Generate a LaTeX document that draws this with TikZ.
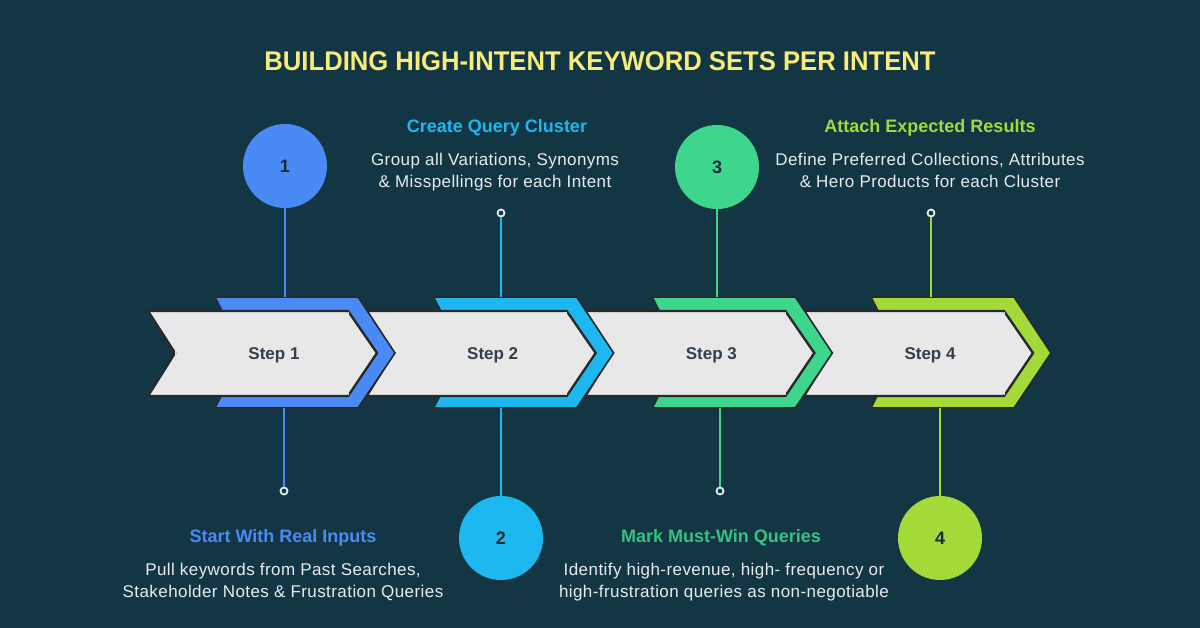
\documentclass[tikz,border=0pt]{standalone}
\usepackage{fontspec}
\setmainfont{Liberation Sans}
\newfontfamily\titlefont[FakeStretch=0.95]{Liberation Sans}
\newfontfamily\descfont[LetterSpace=2.5]{Liberation Sans}
\usetikzlibrary{positioning,calc}
\definecolor{bgdark}{HTML}{133644}
\definecolor{titleyel}{HTML}{F7EB7C}
\definecolor{stepA}{HTML}{4A8AF4}
\definecolor{stepB}{HTML}{1DB8F0}
\definecolor{stepC}{HTML}{3DD68C}
\definecolor{stepD}{HTML}{A4D93A}
\definecolor{band}{HTML}{E8E8E8}
\definecolor{edge}{HTML}{262A2C}
\definecolor{bodytxt}{HTML}{E6ECEF}
\definecolor{numtxt}{HTML}{1B2A38}

% one chevron pair: #1 left edge of the grey arrow, #2 colour
\newcommand{\stepband}[2]{%
  \draw[edge, fill=#2, line width=1.6pt, line join=miter]
    (#1+67,297) -- (#1+210,297) -- (#1+247,353) -- (#1+210,408) -- (#1+67,408) -- (#1+95,353) -- cycle;
  \draw[edge, fill=band, line width=2.4pt, line join=miter]
    (#1,311) -- (#1+200,311) -- (#1+229,353) -- (#1+200,396) -- (#1,396) -- (#1+27,353) -- cycle;
  \draw[black!10, line width=0.6pt] (#1+27,312.5) -- (#1+27,394.5) (#1+200,312.5) -- (#1+200,394.5);
}

\begin{document}
\begin{tikzpicture}[x=1pt, y=-1pt,
  every node/.style={font=\fontsize{16}{22}\selectfont},
  stepnum/.style={circle, minimum size=84pt, inner sep=0pt, text=numtxt,
                  font=\fontsize{18}{18}\selectfont\bfseries},
  ring/.style={circle, draw=bodytxt, fill=bgdark, line width=1.8pt,
               minimum size=7pt, inner sep=0pt},
  head/.style={font=\fontsize{18}{20}\selectfont\bfseries},
  desc/.style={text=bodytxt, align=center, font=\fontsize{17}{22}\descfont},
  steplbl/.style={text=numtxt!90, font=\fontsize{17}{17}\selectfont\bfseries},
  link/.style={line width=2pt}
]
  \fill[bgdark] (0,0) rectangle (1200,628);
  \useasboundingbox (0,0) rectangle (1200,628);

  \node[text=titleyel, font=\fontsize{27}{27}\titlefont\bfseries] (title) at (600,61)
    {BUILDING HIGH-INTENT KEYWORD SETS PER INTENT};

  % chevrons, drawn right to left so each sits over the next one
  \foreach \x/\c in {804/stepD, 585.33/stepC, 366.67/stepB, 148/stepA}
    {\stepband{\x}{\c}}

  \node[steplbl] (s1) at (274,355) {Step 1};
  \node[steplbl] (s2) at (492.7,355) {Step 2};
  \node[steplbl] (s3) at (711.3,355) {Step 3};
  \node[steplbl] (s4) at (930,355) {Step 4};

  % attachment points on the coloured chevrons
  \coordinate (t1) at (285,297);   \coordinate (b1) at (284,408);
  \coordinate (t2) at (501,297);   \coordinate (b2) at (501,408);
  \coordinate (t3) at (717,297);   \coordinate (b3) at (720,408);
  \coordinate (t4) at (931,297);   \coordinate (b4) at (940,408);

  \node[stepnum, fill=stepA] (c1) at (285,166) {1};
  \node[stepnum, fill=stepB] (c2) at (501,538) {2};
  \node[stepnum, fill=stepC] (c3) at (717,167) {3};
  \node[stepnum, fill=stepD] (c4) at (940,538) {4};

  \node[ring] (r1) at (284,491) {};
  \node[ring] (r2) at (501,213) {};
  \node[ring] (r3) at (720,491) {};
  \node[ring] (r4) at (931,213) {};

  \draw[link, stepA] (c1) -- (t1);
  \draw[link, stepA] (b1) -- (r1);
  \draw[link, stepB] (r2) -- (t2);
  \draw[link, stepB] (b2) -- (c2);
  \draw[link, stepC] (c3) -- (t3);
  \draw[link, stepC] (b3) -- (r3);
  \draw[link, stepD] (r4) -- (t4);
  \draw[link, stepD] (b4) -- (c4);

  % texts
  \node[head, text=stepB] (h2) at (497,128) {Create Query Cluster};
  \node[desc, below=10pt of h2, xshift=-2pt] (d2) {Group all Variations, Synonyms\\\& Misspellings for each Intent};

  \node[head, text=stepD] (h4) at (930,128) {Attach Expected Results};
  \node[desc, below=10pt of h4] (d4) {Define Preferred Collections, Attributes\\\& Hero Products for each Cluster};

  \node[head, text=stepA] (h1) at (283,538) {Start With Real Inputs};
  \node[desc, below=10pt of h1] (d1) {Pull keywords from Past Searches,\\Stakeholder Notes \& Frustration Queries};

  \node[head, text=stepC!90!black] (h3) at (721,538) {Mark Must-Win Queries};
  \node[desc, below=10pt of h3, xshift=3pt] (d3) {Identify high-revenue, high- frequency or\\high-frustration queries as non-negotiable};
\end{tikzpicture}
\end{document}
